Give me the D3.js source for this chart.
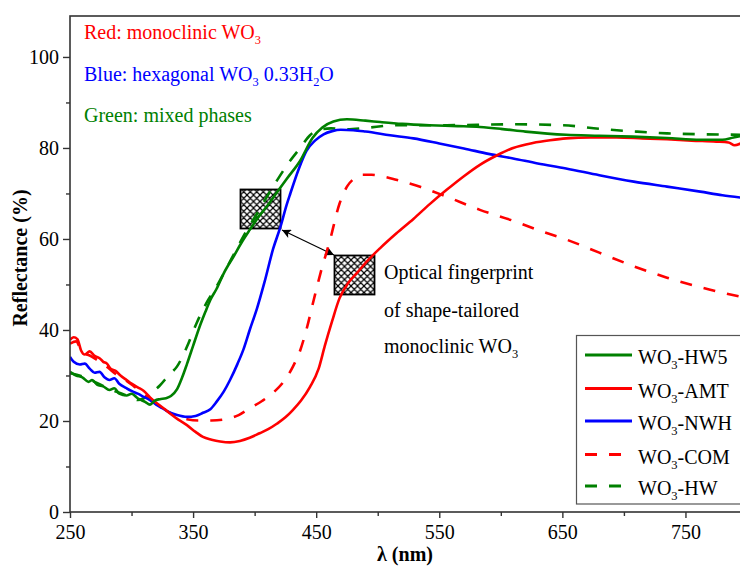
<!DOCTYPE html>
<html><head><meta charset="utf-8">
<script src="https://cdn.jsdelivr.net/npm/d3@7"></script>
<style>
body{margin:0;background:#fff}
svg{display:block}
text{font-family:"Liberation Serif","Times New Roman",serif}
</style>
</head><body>
<svg id="c" width="740" height="570"></svg>
<script>
// ---------- data (wavelength nm, reflectance %) ----------
const hw5Wl = [250,255,260,265,268,272,277,282,286,290,296,300,305,311,315,319,323,328,332,337,341,345,350,355,360,364,369,375,383,390,396,403,410,418,426,437,447,455,464,475,490,502,520,542,565,583,600,620,653,680,707,735,762,780,789,795];
const hw5R  = [30.8,30.0,29.6,28.6,29.0,28.0,27.6,26.8,27.2,26.0,25.6,26.0,25.0,24.2,23.6,24.5,24.8,25.0,25.5,27.0,29.5,32.5,36.5,40.5,44.0,46.6,49.0,52.5,56.2,59.5,62.0,64.8,67.2,70.2,73.2,77.2,82.2,84.5,85.8,86.3,86.0,85.7,85.3,85.0,84.8,84.6,84.2,83.6,82.9,82.7,82.5,82.2,81.8,81.8,82.3,82.6];

const amtWl = [250,253,256,259,262,266,270,274,277,280,283,287,291,296,300,305,310,315,320,326,331,338,345,352,358,365,372,380,388,396,404,411,418,425,431,438,445,452,457,463,469,476,483,492,502,515,529,542,556,570,583,597,610,626,640,653,673,694,715,735,755,775,785,790,795];
const amtR  = [37.8,38.4,38.0,35.5,34.6,35.3,34.3,33.8,33.0,32.6,31.5,31.0,30.0,29.0,28.2,27.4,26.6,25.2,24.0,22.8,21.7,20.3,19.1,17.6,16.5,15.9,15.5,15.3,15.6,16.3,17.3,18.2,19.4,20.8,22.4,24.6,27.5,31.5,36.5,42.0,47.0,50.3,52.5,55.3,58.0,61.2,64.4,67.6,70.8,73.8,76.3,78.4,80.0,81.1,81.7,82.1,82.3,82.3,82.1,81.9,81.6,81.4,81.2,80.6,81.0];

const nwhWl = [250,253,258,262,266,270,274,278,282,286,290,296,300,305,310,315,320,325,330,337,345,352,358,364,369,375,380,386,391,396,402,408,415,421,426,429,436,442,449,456,463,470,480,490,510,529,550,570,590,610,630,653,680,708,735,762,780,795];
const nwhR  = [34.1,33.0,32.4,32.6,31.5,30.6,30.8,29.6,29.0,29.4,28.2,27.2,26.6,26.0,25.3,24.6,23.6,22.8,22.0,21.3,20.9,21.1,21.8,22.6,24.2,26.5,29.0,32.5,35.8,40.0,44.8,50.5,57.8,62.7,67.5,70.0,75.5,79.3,81.6,83.0,83.7,84.0,83.9,83.6,82.8,82.1,81.0,79.9,78.7,77.7,76.6,75.5,74.0,72.6,71.5,70.4,69.6,69.1];

const comWl = [250,255,260,266,272,278,284,290,296,302,308,315,322,330,337,345,355,365,377,387,396,406,415,424,431,437,442,448,454,461,469,475,481,488,495,505,515,535,556,583,610,630,654,680,708,735,762,795];
const comR  = [37.0,37.5,35.0,34.4,33.4,32.4,31.0,29.8,28.8,27.6,26.4,25.0,23.6,22.0,21.0,20.4,20.1,20.1,20.4,21.3,22.8,24.4,26.2,28.8,31.9,35.5,40.0,46.6,53.0,59.5,67.8,71.5,73.3,74.1,74.1,73.7,73.0,71.4,69.3,66.4,64.0,62.0,59.8,57.0,54.0,51.5,49.4,47.3];

const hwWl = [250,260,270,280,290,300,305,310,315,323,330,337,345,353,361,369,377,385,393,402,410,418,427,437,445,453,462,475,490,515,556,610,650,680,710,735,765,795];
const hwR  = [30.5,29.8,28.6,27.3,26.2,25.2,24.6,25.0,26.0,27.8,30.0,32.0,36.3,41.6,46.0,49.5,53.5,57.6,61.6,65.6,69.3,72.8,76.5,80.0,82.8,84.0,84.3,84.1,84.4,85.0,85.0,85.2,85.0,84.2,83.6,83.2,83.0,82.9];

const xTicks = [250,350,450,550,650,750];
const xMinor = [300,400,500,600,700,800];
const yTicks = [0,20,40,60,80,100];
const yMinor = [10,30,50,70,90];
const legendNames = ["-HW5","-AMT","-NWH","-COM","-HW"];

// ---------- setup ----------
const svg = d3.select("#c");
const M = {l:70, t:16, b:512, r:747};
const x = d3.scaleLinear().domain([250,800]).range([M.l, M.r]);
const y = d3.scaleLinear().domain([0,109]).range([M.b, M.t]);
const RED="#ff0000", BLUE="#0000ff", GREEN="#008000";

const series = [
  {wl:hw5Wl, r:hw5R, color:GREEN, dash:null},
  {wl:amtWl, r:amtR, color:RED, dash:null},
  {wl:nwhWl, r:nwhR, color:BLUE, dash:null},
  {wl:comWl, r:comR, color:RED, dash:"12,12"},
  {wl:hwWl,  r:hwR,  color:GREEN, dash:"12,12"}
];

// hatch pattern
const defs = svg.append("defs");
const pat = defs.append("pattern").attr("id","hatch").attr("patternUnits","userSpaceOnUse")
  .attr("width",6.5).attr("height",6.5);
pat.append("rect").attr("width",6.5).attr("height",6.5).attr("fill","#fff");
pat.append("path").attr("d","M0,0L6.5,6.5M6.5,0L0,6.5M-1,5.5L1,7.5M5.5,-1L7.5,1").attr("stroke","#000").attr("stroke-width",1.2);
defs.append("clipPath").attr("id","clip").append("rect")
  .attr("x",M.l).attr("y",M.t).attr("width",M.r-M.l).attr("height",M.b-M.t);
const mk = defs.append("marker").attr("id","arr").attr("viewBox","0 0 10 10")
  .attr("refX",10).attr("refY",5).attr("markerWidth",12).attr("markerHeight",9)
  .attr("markerUnits","userSpaceOnUse").attr("orient","auto-start-reverse");
mk.append("path").attr("d","M0,0L10,5L0,10L2.5,5Z").attr("fill","#000");

// hatched boxes (drawn under curves)
svg.append("rect").attr("x",240.5).attr("y",189.5).attr("width",40).attr("height",39)
  .attr("fill","url(#hatch)").attr("stroke","#000").attr("stroke-width",1.8);
svg.append("rect").attr("x",334.5).attr("y",255.5).attr("width",40).attr("height",39)
  .attr("fill","url(#hatch)").attr("stroke","#000").attr("stroke-width",1.8);
svg.append("line").attr("x1",282).attr("y1",230).attr("x2",334).attr("y2",255)
  .attr("stroke","#000").attr("stroke-width",1.2)
  .attr("marker-start","url(#arr)").attr("marker-end","url(#arr)");

// curves
const line = d3.line().x(d=>x(d[0])).y(d=>y(d[1])).curve(d3.curveMonotoneX);
const gC = svg.append("g").attr("clip-path","url(#clip)");
series.slice().reverse().forEach(s=>{
  const pts = s.wl.map((w,i)=>[w,s.r[i]]);
  gC.append("path").attr("d",line(pts)).attr("fill","none")
    .attr("stroke",s.color).attr("stroke-width",2.6)
    .attr("stroke-dasharray",s.dash).attr("stroke-linejoin","round");
});

// frame
const AX="#333";
svg.append("rect").attr("x",M.l).attr("y",M.t).attr("width",M.r-M.l).attr("height",M.b-M.t)
  .attr("fill","none").attr("stroke",AX).attr("stroke-width",1.6);

// axes
function styleAxis(g){
  g.select(".domain").remove();
  g.selectAll(".tick line").attr("stroke",AX).attr("stroke-width",1.4);
  g.selectAll(".tick text").attr("fill","#000").style("font-size","20px")
    .style("font-family",'"Liberation Serif","Times New Roman",serif');
}
svg.append("g").attr("transform",`translate(0,${M.b})`)
  .call(d3.axisBottom(x).tickValues(xTicks).tickSize(6).tickPadding(7).tickFormat(d3.format("d")))
  .call(styleAxis);
svg.append("g").attr("transform",`translate(0,${M.b})`)
  .call(d3.axisBottom(x).tickValues(xMinor).tickSize(4).tickFormat(""))
  .call(styleAxis);
svg.append("g").attr("transform",`translate(${M.l},0)`)
  .call(d3.axisLeft(y).tickValues(yTicks).tickSize(7).tickPadding(4).tickFormat(d3.format("d")))
  .call(styleAxis);
svg.append("g").attr("transform",`translate(${M.l},0)`)
  .call(d3.axisLeft(y).tickValues(yMinor).tickSize(4).tickFormat(""))
  .call(styleAxis);

// axis titles
svg.append("text").attr("x",405).attr("y",561).attr("text-anchor","middle")
  .style("font-size","20px").style("font-weight","bold").text("λ (nm)");
svg.append("text").attr("transform","translate(27,258) rotate(-90)").attr("text-anchor","middle")
  .style("font-size","20px").style("font-weight","bold").text("Reflectance (%)");

// rich text helper
function rich(xp, yp, parts, color, size){
  const t = svg.append("text").attr("x",xp).attr("y",yp).attr("fill",color).style("font-size",size+"px");
  parts.forEach(p=>{
    if(p[1]) t.append("tspan").attr("dy",5).style("font-size",(size*0.62)+"px").text(p[0]);
    else t.append("tspan").attr("dy",p[2]||0).text(p[0]);
  });
  return t;
}
rich(84,39,[["Red: monoclinic WO"],["3",1]],RED,20);
rich(84,81,[["Blue: hexagonal WO"],["3",1],[" 0.33H",0,-5],["2",1],["O",0,-5]],BLUE,20);
rich(84,122,[["Green: mixed phases"]],GREEN,20);

rich(384,279,[["Optical fingerprint"]],"#000",20);
rich(384,317,[["of shape-tailored"]],"#000",20);
rich(384,353,[["monoclinic WO"],["3",1]],"#000",20);

// legend
const lg = svg.append("g");
lg.append("rect").attr("x",576.5).attr("y",335.5).attr("width",200).attr("height",168.5)
  .attr("fill","#fff").attr("stroke","#555").attr("stroke-width",1.2);
const rowY = [355,388.5,421,454.5,486];
series.forEach((s,i)=>{
  lg.append("line").attr("x1",585).attr("x2",632).attr("y1",rowY[i]).attr("y2",rowY[i])
    .attr("stroke",s.color).attr("stroke-width",3).attr("stroke-dasharray",s.dash);
  const t = lg.append("text").attr("x",638).attr("y",rowY[i]+9).attr("fill","#000").style("font-size","20px");
  t.append("tspan").text("WO");
  t.append("tspan").attr("dy",5).style("font-size","12.5px").text("3");
  t.append("tspan").attr("dy",-5).text(legendNames[i]);
});
</script>
</body></html>
